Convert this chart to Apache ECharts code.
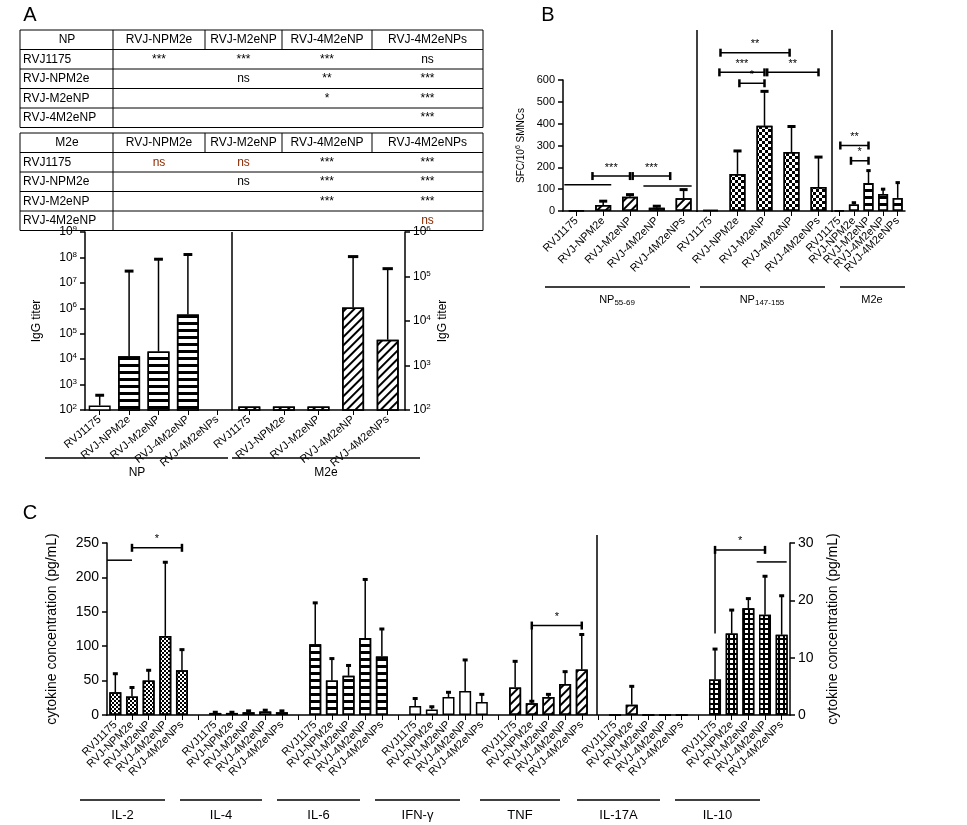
<!DOCTYPE html>
<html><head><meta charset="utf-8">
<script src="https://cdn.jsdelivr.net/npm/echarts@6/dist/echarts.min.js"></script>
<style>html,body{margin:0;background:#fff}#c{width:967px;height:825px}</style>
</head><body><div id="c"></div>
<script>
var FONT = 'Liberation Sans';
var names = ['RVJ1175', 'RVJ-NPM2e', 'RVJ-M2eNP', 'RVJ-4M2eNP', 'RVJ-4M2eNPs'];

// panel A, IgG titer
var npIgG = [150, 13000, 20000, 570000, 105];
var npIgGErr = [380, 2.9e7, 8.5e7, 1.3e8, null];
var m2eIgG = [120, 120, 120, 20000, 3800];
var m2eIgGErr = [null, null, null, 280000, 150000];

// panel B, SFC
var np55 = [3, 27, 65, 15, 58];
var np55Err = [null, 45, 75, 22, 98];
var np147 = [5, 170, 390, 270, 110];
var np147Err = [null, 275, 548, 387, 247];
var m2eSfc = [3, 30, 128, 78, 60];
var m2eSfcErr = [null, 38, 185, 100, 130];

// panel C, cytokines
var cytoGroups = ['IL-2', 'IL-4', 'IL-6', 'IFN-γ', 'TNF', 'IL-17A', 'IL-10'];
var il2 = [33, 27, 50, 115, 65], il2Err = [60, 40, 65, 222, 95];
var il4 = [3, 3, 4, 5, 4], il4Err = [4, 4, 6, 7, 6];
var il6 = [103, 50, 57, 112, 85], il6Err = [163, 82, 72, 197, 125];
var ifng = [13, 8, 26, 35, 19], ifngErr = [24, 12, 33, 80, 30];
var tnf = [40, 17, 26, 45, 66], tnfErr = [78, 20, 30, 63, 117];
var il17a = [0, 1.8, 0, 0, 0], il17aErr = [null, 5, null, null, null];
var il10 = [6.2, 14.2, 18.6, 17.5, 14], il10Err = [11.5, 18.3, 20.3, 24.2, 20.8];

// significance tables
var tableCols = ['RVJ-NPM2e', 'RVJ-M2eNP', 'RVJ-4M2eNP', 'RVJ-4M2eNPs'];
var tableRows = ['RVJ1175', 'RVJ-NPM2e', 'RVJ-M2eNP', 'RVJ-4M2eNP'];
var npTable = [['***', '***', '***', 'ns'], ['', 'ns', '**', '***'], ['', '', '*', '***'], ['', '', '', '***']];
var m2eTable = [['ns*', 'ns*', '***', '***'], ['', 'ns', '***', '***'], ['', '', '***', '***'], ['', '', '', 'ns*']];

// brackets: [x1, x2, y, label, caps, legBottomLeft]
var bracketsNp55 = [[-0.45, 1.3, 120, '', 0], [0.6, 2, 160, '***', 1], [2.1, 3.5, 160, '***', 1], [2.5, 4.3, 115, '', 0]];
var bracketsNp147 = [[0.37, 2.93, 725, '**', 1], [0.33, 2, 635, '***', 1], [1.07, 2, 585, '*', 1], [2.1, 4, 635, '**', 1]];
var bracketsM2e = [[0.07, 2, 300, '**', 1], [0.8, 2, 230, '*', 1]];
var bracketsCL = [[-0.5, 1, 225, '', 0], [1, 4, 243, '*', 1], [25, 28, 130, '*', 1, 20]];
var bracketsCR = [[36, 39, 28.8, '*', 1, 14.2], [38.5, 40.3, 26.7, '', 0]];

var hStripe = {symbol: 'rect', symbolSize: 1, dashArrayX: [1, 0], dashArrayY: [3, 4], rotation: 0, color: '#000'};
var diag = {symbol: 'rect', symbolSize: 1, dashArrayX: [1, 0], dashArrayY: [2, 4], rotation: -Math.PI / 4, color: '#000'};
var checker = {symbol: 'rect', symbolSize: 1, dashArrayX: [[3, 3], [0, 3, 3, 0]], dashArrayY: [3, 0], rotation: 0, color: '#000'};
var fine = {symbol: 'rect', symbolSize: 1, dashArrayX: [[2, 2], [0, 2, 2, 0]], dashArrayY: [2, 0], rotation: 0, color: '#000'};
var gridDec = {symbol: 'rect', symbolSize: 1, dashArrayX: [3, 1.5], dashArrayY: [3, 1.5], rotation: 0, color: '#fff'};

function bars(vals, decal, open) {
  return vals.map(function (v, i) {
    var st = {color: '#fff', borderColor: '#000', borderWidth: 1.5};
    if (decal === 'grid') { st.color = '#000'; st.decal = gridDec; }
    else if (decal && !(open && i === 0)) st.decal = decal;
    return v == null ? null : {value: v, itemStyle: st};
  });
}
function errData(vals, errs, offset) {
  var out = [];
  vals.forEach(function (v, i) { if (errs[i] != null && v != null) out.push([i + (offset || 0), v, errs[i]]); });
  return out;
}
function errItem(params, api) {
  var x = api.value(0), v = api.value(1), e = api.value(2);
  var p0 = api.coord([x, v]), p1 = api.coord([x, e]);
  var w = api.size([1, 0], [x, v])[0] * 0.3;
  return {type: 'group', children: [
    {type: 'line', shape: {x1: p0[0], y1: p0[1], x2: p1[0], y2: p1[1]}, style: {stroke: '#000', lineWidth: 1.5}},
    {type: 'line', shape: {x1: p1[0] - w / 2, y1: p1[1], x2: p1[0] + w / 2, y2: p1[1]}, style: {stroke: '#000', lineWidth: 3}}
  ]};
}
function errSeries(data, xi, yi) {
  return {type: 'custom', xAxisIndex: xi, yAxisIndex: yi, renderItem: errItem, data: data, z: 5, silent: true, encode: {x: 0, y: [1, 2]}};
}
function bracketSeries(spec, xi, yi) {
  return {type: 'custom', xAxisIndex: xi, yAxisIndex: yi, z: 6, silent: true,
    data: spec.map(function (s) { return [Math.floor(s[0]), s[2]]; }),
    encode: {x: 0, y: 1},
    renderItem: function (params, api) {
      var s = spec[params.dataIndex];
      var bw = api.size([1, 0], [0, s[2]])[0];
      function at(x, y) { var i = Math.floor(x); var p = api.coord([i, y]); p[0] += (x - i) * bw; return p; }
      var a = at(s[0], s[2]), b = at(s[1], s[2]);
      var ch = [{type: 'line', shape: {x1: a[0], y1: a[1], x2: b[0], y2: b[1]}, style: {stroke: '#000', lineWidth: 1.5}}];
      if (s[4]) {
        ch.push({type: 'line', shape: {x1: a[0], y1: a[1] - 4, x2: a[0], y2: a[1] + 4}, style: {stroke: '#000', lineWidth: 2.5}});
        ch.push({type: 'line', shape: {x1: b[0], y1: b[1] - 4, x2: b[0], y2: b[1] + 4}, style: {stroke: '#000', lineWidth: 2.5}});
      }
      if (s[5] != null) {
        var c = at(s[0], s[5]);
        ch.push({type: 'line', shape: {x1: a[0], y1: a[1], x2: c[0], y2: c[1]}, style: {stroke: '#000', lineWidth: 1.5}});
      }
      if (s[3]) ch.push({type: 'text', style: {text: s[3], x: (a[0] + b[0]) / 2, y: a[1] - 3, align: 'center', verticalAlign: 'bottom', font: '11px ' + FONT, fill: '#000'}});
      return {type: 'group', children: ch};
    }};
}
function logFmt(v) { return '10{s|' + Math.round(Math.log10(v)) + '}'; }
var logLabel = {fontFamily: FONT, fontSize: 12, color: '#000', formatter: logFmt, rich: {s: {fontSize: 8, verticalAlign: 'top', padding: [0, 0, 6, 0], fontFamily: FONT}}};
var axLine = {show: true, lineStyle: {color: '#000', width: 1.5}};
var axTick = {show: true, lineStyle: {color: '#000', width: 1.5}, length: 5};
function catAxis(gi, data, rot, fmt) {
  return {type: 'category', gridIndex: gi, data: data, axisLine: axLine, axisTick: {show: true, lineStyle: {color: '#000'}, alignWithLabel: true, interval: 0, length: 5},
    axisLabel: {interval: 0, rotate: rot, fontFamily: FONT, fontSize: 11, color: '#000', formatter: fmt, margin: 8}};
}

// panel C category list with gaps
var cytoCats = [];
cytoGroups.forEach(function (g, gi) {
  if (gi) cytoCats.push('gap' + gi);
  names.forEach(function (n) { cytoCats.push(g + '|' + n); });
});
var cytoLeft = [il2, il4, il6, ifng, tnf], cytoLeftErr = [il2Err, il4Err, il6Err, ifngErr, tnfErr];
var cytoDecals = [fine, hStripe, hStripe, null, diag];
var cLeftBars = [], cLeftErr = [];
cytoLeft.forEach(function (arr, gi) {
  var b = bars(arr, cytoDecals[gi]);
  if (gi) cLeftBars.push(null);
  cLeftBars = cLeftBars.concat(b);
  cLeftErr = cLeftErr.concat(errData(arr, cytoLeftErr[gi], gi * 6));
});
var cRightBars = [];
for (var k = 0; k < 30; k++) cRightBars.push(null);
cRightBars = cRightBars.concat(bars(il17a, diag)).concat([null]).concat(bars(il10, 'grid'));
var cRightErr = errData(il17a, il17aErr, 30).concat(errData(il10, il10Err, 36));

// graphics: tables, labels, group lines
var g = [];
function txt(x, y, s, opt) {
  opt = opt || {};
  g.push({type: 'text', x: x, y: y, rotation: opt.rot || 0, style: {text: s, font: (opt.bold ? 'bold ' : '') + (opt.size || 12) + 'px ' + FONT, fill: opt.color || '#000', align: opt.align || 'center', verticalAlign: 'middle', rich: opt.rich}});
}
function ln(x1, y1, x2, y2, w) { g.push({type: 'line', shape: {x1: x1, y1: y1, x2: x2, y2: y2}, style: {stroke: '#000', lineWidth: w || 1}}); }
function table(top, head, cells) {
  var xs = [20, 113, 205, 282, 372, 483], rh = 19.5;
  for (var r = 0; r <= 5; r++) ln(20, top + r * rh, 483, top + r * rh, 1);
  ln(20, top, 20, top + 5 * rh); ln(483, top, 483, top + 5 * rh);
  ln(113, top, 113, top + 5 * rh);
  for (var c = 2; c < 5; c++) ln(xs[c], top, xs[c], top + rh);
  txt(67, top + rh / 2, head);
  tableCols.forEach(function (cn, c) { txt((xs[c + 1] + xs[c + 2]) / 2, top + rh / 2, cn); });
  tableRows.forEach(function (rn, r) {
    txt(23, top + rh * (r + 1.5), rn, {align: 'left'});
    cells[r].forEach(function (s, c) {
      if (!s) return;
      var red = s === 'ns*';
      txt((xs[c + 1] + xs[c + 2]) / 2, top + rh * (r + 1.5), red ? 'ns' : s, {color: red ? '#8b2a00' : '#000'});
    });
  });
}
table(30, 'NP', npTable);
table(133, 'M2e', m2eTable);
txt(30, 15, 'A', {size: 20});
txt(548, 15, 'B', {size: 20});
txt(30, 513, 'C', {size: 20});
ln(232, 232, 232, 410, 1.5);
ln(697, 30, 697, 212, 1.5);
ln(832, 30, 832, 212, 1.5);
ln(597, 535, 597, 715, 1.5);
ln(45, 458, 228, 458, 1.5); txt(137, 473, 'NP');
ln(232, 458, 420, 458, 1.5); txt(326, 473, 'M2e');
var sub = {b: {fontSize: 8, verticalAlign: 'bottom', padding: [6, 0, 0, 0], fontFamily: FONT}};
ln(545, 287, 690, 287, 1.5); txt(617, 300, 'NP{b|55-69}', {size: 11, rich: sub});
ln(700, 287, 825, 287, 1.5); txt(762, 300, 'NP{b|147-155}', {size: 11, rich: sub});
ln(840, 287, 905, 287, 1.5); txt(872, 300, 'M2e', {size: 11});
var gx = [[80, 165], [180, 262], [277, 360], [375, 460], [480, 560], [577, 660], [675, 760]];
cytoGroups.forEach(function (n, i) { ln(gx[i][0], 800, gx[i][1], 800, 1.5); txt((gx[i][0] + gx[i][1]) / 2, 815, n, {size: 13}); });

var chart = echarts.init(document.getElementById('c'));
chart.setOption({
  animation: false,
  textStyle: {fontFamily: FONT},
  grid: [
    {left: 85, top: 232, width: 147, height: 178},
    {left: 232, top: 232, width: 173, height: 178},
    {left: 563, top: 80, width: 134, height: 131},
    {left: 697, top: 80, width: 135, height: 131},
    {left: 832, top: 80, width: 73, height: 131},
    {left: 107, top: 543, width: 683, height: 172}
  ],
  xAxis: [
    catAxis(0, names, 40), catAxis(1, names, 40),
    catAxis(2, names, 45), catAxis(3, names, 45), catAxis(4, names, 45),
    catAxis(5, cytoCats, 45, function (v) { return v.indexOf('|') < 0 ? '' : v.split('|')[1]; })
  ],
  yAxis: [
    {type: 'log', gridIndex: 0, min: 100, max: 1e9, logBase: 10, splitNumber: 7, axisLine: axLine, axisTick: axTick, splitLine: {show: false}, axisLabel: logLabel,
      name: 'IgG titer', nameLocation: 'middle', nameGap: 42, nameTextStyle: {fontFamily: FONT, fontSize: 12, color: '#000'}},
    {type: 'log', gridIndex: 1, position: 'right', min: 100, max: 1e6, logBase: 10, splitNumber: 4, axisLine: axLine, axisTick: axTick, splitLine: {show: false}, axisLabel: logLabel,
      name: 'IgG titer', nameLocation: 'middle', nameGap: 32, nameTextStyle: {fontFamily: FONT, fontSize: 12, color: '#000'}},
    {type: 'value', gridIndex: 2, min: 0, max: 600, interval: 100, axisLine: axLine, axisTick: axTick, splitLine: {show: false},
      axisLabel: {fontFamily: FONT, fontSize: 11, color: '#000'},
      name: 'SFC/10{s|6} SMNCs', nameLocation: 'middle', nameGap: 36,
      nameTextStyle: {fontFamily: FONT, fontSize: 10, color: '#000', rich: {s: {fontSize: 7, verticalAlign: 'top', padding: [0, 0, 5, 0]}}}},
    {type: 'value', gridIndex: 3, min: 0, max: 600, show: false},
    {type: 'value', gridIndex: 4, min: 0, max: 600, show: false},
    {type: 'value', gridIndex: 5, min: 0, max: 250, interval: 50, axisLine: axLine, axisTick: axTick, splitLine: {show: false},
      axisLabel: {fontFamily: FONT, fontSize: 14, color: '#000'},
      name: 'cytokine concentration (pg/mL)', nameLocation: 'middle', nameGap: 48, nameTextStyle: {fontFamily: FONT, fontSize: 14, color: '#000'}},
    {type: 'value', gridIndex: 5, position: 'right', min: 0, max: 30, interval: 10, axisLine: axLine, axisTick: axTick, splitLine: {show: false},
      axisLabel: {fontFamily: FONT, fontSize: 14, color: '#000'},
      name: 'cytokine concentration (pg/mL)', nameLocation: 'middle', nameGap: 36, nameRotate: 90, nameTextStyle: {fontFamily: FONT, fontSize: 14, color: '#000'}}
  ],
  series: [
    {type: 'bar', xAxisIndex: 0, yAxisIndex: 0, barWidth: 22, data: bars(npIgG, hStripe, true)},
    errSeries(errData(npIgG, npIgGErr), 0, 0),
    {type: 'bar', xAxisIndex: 1, yAxisIndex: 1, barWidth: 22, data: bars(m2eIgG, diag)},
    errSeries(errData(m2eIgG, m2eIgGErr), 1, 1),
    {type: 'bar', xAxisIndex: 2, yAxisIndex: 2, barWidth: 16, data: bars(np55, diag)},
    errSeries(errData(np55, np55Err), 2, 2),
    bracketSeries(bracketsNp55, 2, 2),
    {type: 'bar', xAxisIndex: 3, yAxisIndex: 3, barWidth: 16, data: bars(np147, checker)},
    errSeries(errData(np147, np147Err), 3, 3),
    bracketSeries(bracketsNp147, 3, 3),
    {type: 'bar', xAxisIndex: 4, yAxisIndex: 4, barWidth: 10, data: bars(m2eSfc, hStripe)},
    errSeries(errData(m2eSfc, m2eSfcErr), 4, 4),
    bracketSeries(bracketsM2e, 4, 4),
    {type: 'bar', xAxisIndex: 5, yAxisIndex: 5, barWidth: 12, data: cLeftBars},
    errSeries(cLeftErr, 5, 5),
    bracketSeries(bracketsCL, 5, 5),
    {type: 'bar', xAxisIndex: 5, yAxisIndex: 6, barWidth: 12, barGap: '-100%', data: cRightBars},
    errSeries(cRightErr, 5, 6),
    bracketSeries(bracketsCR, 5, 6)
  ],
  graphic: g
});
</script></body></html>
